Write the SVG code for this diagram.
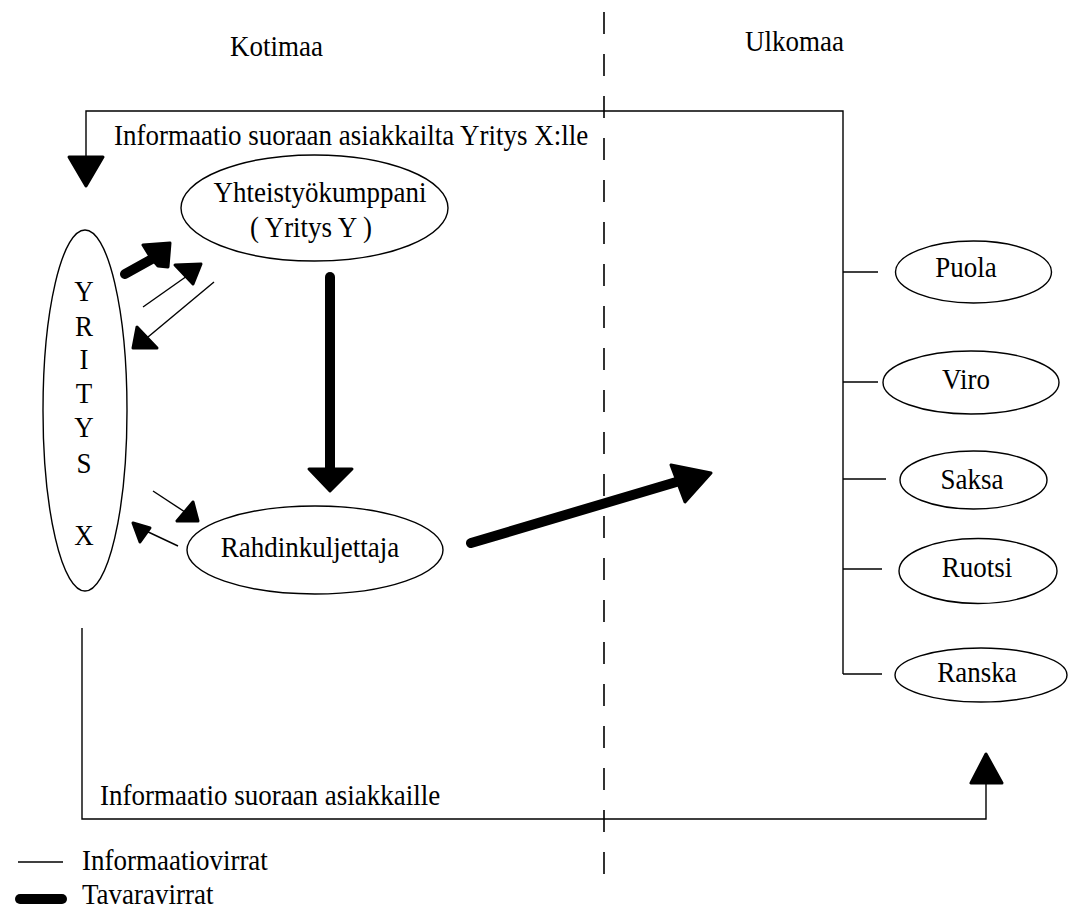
<svg xmlns="http://www.w3.org/2000/svg" width="1069" height="910" viewBox="0 0 1069 910">
  <style>
    .t { font-family: "Liberation Serif", "Times New Roman", serif; font-size: 27px; fill: #000; }
    .m { text-anchor: middle; }
    .node { fill: #fff; stroke: #000; stroke-width: 1.4; }
    .thin { fill: none; stroke: #000; stroke-width: 1.4; }
    .thick { fill: none; stroke: #000; stroke-width: 10; stroke-linecap: round; }
    .head { fill: #000; stroke: #000; stroke-width: 3; stroke-linejoin: round; }
    .dash { fill: none; stroke: #000; stroke-width: 1.6; stroke-dasharray: 22 20; }
  </style>

  <rect width="1069" height="910" fill="#fff"/>

  <!-- domestic / foreign divider -->
  <line class="dash" x1="604" y1="12" x2="604" y2="880"/>

  <!-- region titles -->
  <g id="title-kotimaa"><text class="t" transform="translate(230 56) scale(1 1.12)">Kotimaa</text></g>
  <g id="title-ulkomaa"><text class="t" transform="translate(745 51) scale(1 1.12)">Ulkomaa</text></g>

  <!-- connectors -->
  <g id="connectors">
    <!-- information from customers back to company X -->
    <polyline class="thin" points="843,674 843,111 86,111 86,158"/>
    <polygon class="head" points="69,157 103,157 86,186" stroke-width="1.5"/>
    <!-- branches to the countries -->
    <line class="thin" x1="843" y1="272" x2="878" y2="272"/>
    <line class="thin" x1="843" y1="382" x2="878" y2="382"/>
    <line class="thin" x1="843" y1="479" x2="886" y2="479"/>
    <line class="thin" x1="843" y1="569" x2="882" y2="569"/>
    <line class="thin" x1="843" y1="674" x2="882" y2="674"/>

    <!-- information directly to customers -->
    <polyline class="thin" points="82,628 82,819 986,819 986,782"/>
    <polygon class="head" points="971,783 1002,783 986,754" stroke-width="1.5"/>

    <!-- goods: company X to partner (bent fat arrow) -->
    <line class="thick" x1="125" y1="274" x2="152" y2="259" stroke-width="12"/>
    <polygon class="head" points="143,245 170,243 168,267 158,266 151,258" stroke-width="5"/>

    <!-- information: company X to partner -->
    <line class="thin" x1="143" y1="307" x2="187" y2="276"/>
    <polygon class="head" points="175,265 201,264 193,284" stroke-width="1.5"/>
    <!-- information: partner to company X -->
    <line class="thin" x1="214" y1="282" x2="148" y2="337"/>
    <polygon class="head" points="137,327 133,348 157,348" stroke-width="1.5"/>

    <!-- goods: partner to carrier -->
    <line class="thick" x1="330" y1="277" x2="330" y2="470"/>
    <polygon class="head" points="309,469 352,469 330,491"/>

    <!-- information: company X to carrier -->
    <line class="thin" x1="153" y1="491" x2="188" y2="514"/>
    <polygon class="head" points="177,521 198,521 193,502" stroke-width="1.5"/>
    <!-- information: carrier to company X -->
    <line class="thin" x1="178" y1="546" x2="144" y2="530"/>
    <polygon class="head" points="133,523 140,542 150,528" stroke-width="1.5"/>

    <!-- goods: carrier abroad -->
    <line class="thick" x1="471" y1="543" x2="683" y2="480"/>
    <polygon class="head" points="671,465 711,473 685,502"/>
  </g>

  <!-- company X -->
  <g id="node-yritys-x">
    <ellipse class="node" cx="85" cy="410.5" rx="42" ry="180.5"/>
    <text class="t m" transform="translate(84 301) scale(1 1.12)">Y</text>
    <text class="t m" transform="translate(84 336) scale(1 1.12)">R</text>
    <text class="t m" transform="translate(84 369) scale(1 1.12)">I</text>
    <text class="t m" transform="translate(84 403) scale(1 1.12)">T</text>
    <text class="t m" transform="translate(84 437) scale(1 1.12)">Y</text>
    <text class="t m" transform="translate(84 473) scale(1 1.12)">S</text>
    <text class="t m" transform="translate(84 545) scale(1 1.12)">X</text>
  </g>

  <!-- partner company Y -->
  <g id="node-yhteistyokumppani">
    <ellipse class="node" cx="314.5" cy="208" rx="133.5" ry="53"/>
    <text class="t m" transform="translate(320 202) scale(1 1.12)">Yhteistyökumppani</text>
    <text class="t m" transform="translate(311 237) scale(1 1.12)">( Yritys Y )</text>
  </g>

  <!-- carrier -->
  <g id="node-rahdinkuljettaja">
    <ellipse class="node" cx="315" cy="550" rx="128" ry="44"/>
    <text class="t m" transform="translate(310 557) scale(1 1.12)">Rahdinkuljettaja</text>
  </g>

  <!-- countries -->
  <g id="node-puola">
    <ellipse class="node" cx="973.5" cy="272" rx="78" ry="31"/>
    <text class="t m" transform="translate(966 277) scale(1 1.12)">Puola</text>
  </g>
  <g id="node-viro">
    <ellipse class="node" cx="971" cy="382.5" rx="88" ry="31.5"/>
    <text class="t m" transform="translate(966 389) scale(1 1.12)">Viro</text>
  </g>
  <g id="node-saksa">
    <ellipse class="node" cx="973.5" cy="480" rx="73.5" ry="29"/>
    <text class="t m" transform="translate(972 489) scale(1 1.12)">Saksa</text>
  </g>
  <g id="node-ruotsi">
    <ellipse class="node" cx="978" cy="571" rx="79" ry="32.5"/>
    <text class="t m" transform="translate(977 577) scale(1 1.12)">Ruotsi</text>
  </g>
  <g id="node-ranska">
    <ellipse class="node" cx="981" cy="675" rx="86" ry="27"/>
    <text class="t m" transform="translate(977 682) scale(1 1.12)">Ranska</text>
  </g>

  <!-- flow labels -->
  <g id="label-info-from-customers">
    <text class="t" transform="translate(114 145) scale(1 1.12)">Informaatio suoraan asiakkailta Yritys X:lle</text>
  </g>
  <g id="label-info-to-customers">
    <text class="t" transform="translate(100 805) scale(1 1.12)">Informaatio suoraan asiakkaille</text>
  </g>

  <!-- legend -->
  <g id="legend">
    <line class="thin" x1="18" y1="862" x2="63" y2="862"/>
    <text class="t" transform="translate(82 870) scale(1 1.12)">Informaatiovirrat</text>
    <line class="thick" x1="20" y1="899" x2="62" y2="899" stroke-width="8"/>
    <text class="t" transform="translate(82 904) scale(1 1.12)">Tavaravirrat</text>
  </g>
</svg>
